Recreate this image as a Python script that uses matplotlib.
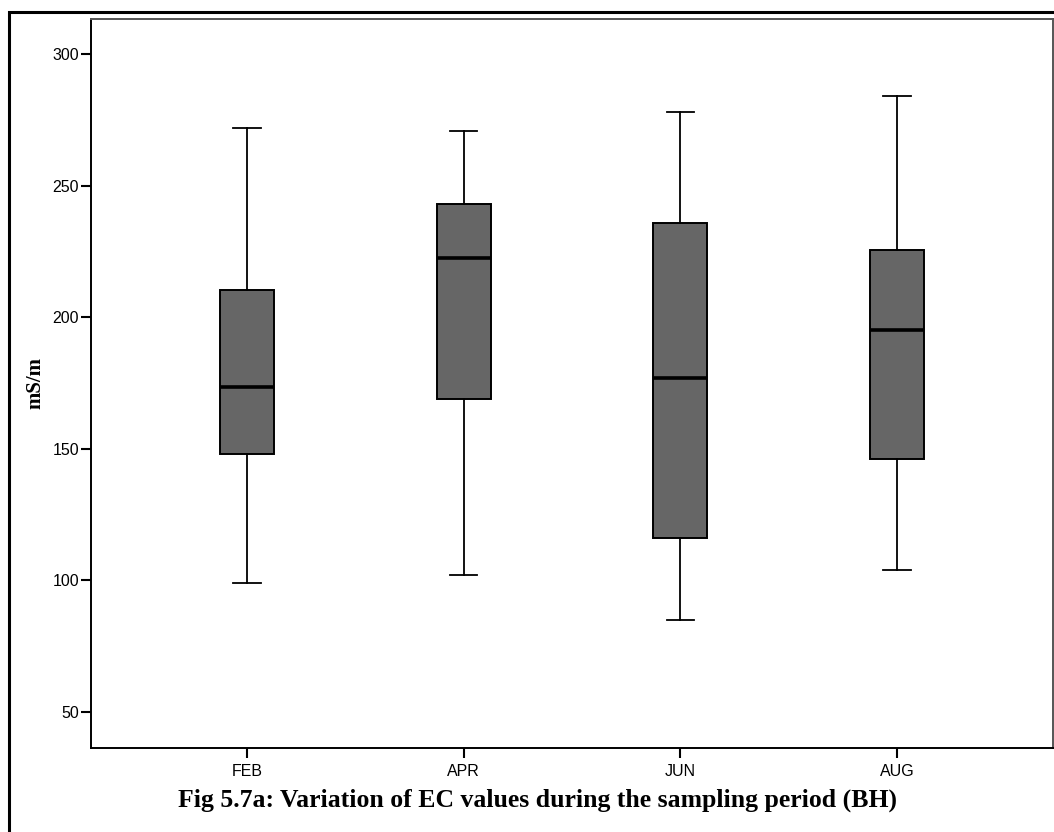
import matplotlib
matplotlib.use("Agg")
import matplotlib.pyplot as plt
from matplotlib.patches import Rectangle

months = ["FEB", "APR", "JUN", "AUG"]
whisker_low = [99, 102, 85, 104]
q1 = [148, 169, 116, 146]
median = [173.5, 222.5, 177, 195]
q3 = [210.5, 243, 236, 225.5]
whisker_high = [272, 271, 278, 284]
yticks = [50, 100, 150, 200, 250, 300]

fig = plt.figure(figsize=(10.54, 8.32), dpi=100)
W, H = 1054, 832
ax = fig.add_axes([91 / W, 1 - 748 / H, (1053 - 91) / W, (748 - 19) / H])

stats = []
for m, lo, a, med, b, hi in zip(months, whisker_low, q1, median, q3, whisker_high):
    stats.append(dict(label=m, whislo=lo, q1=a, med=med, q3=b, whishi=hi, fliers=[]))

ax.bxp(stats, positions=[1, 2, 3, 4], widths=0.25, patch_artist=True,
       showfliers=False,
       boxprops=dict(facecolor="#666666", edgecolor="black", linewidth=1.4),
       medianprops=dict(color="black", linewidth=2.6),
       whiskerprops=dict(color="black", linewidth=1.3),
       capprops=dict(color="black", linewidth=1.3))

ax.set_xlim(0.28, 4.72)
ax.set_ylim(36.3, 313.4)
ax.set_yticks(yticks)
ax.set_xticks([1, 2, 3, 4])
ax.set_xticklabels(months)
for lab in ax.get_yticklabels() + ax.get_xticklabels():
    lab.set_fontfamily("Liberation Sans")
    lab.set_fontsize(11.5)
ax.tick_params(axis="both", direction="out", length=7.5, width=1.5, color="black")
ax.tick_params(axis="y", pad=1)
ax.tick_params(axis="x", pad=4)
for s in ["left", "bottom"]:
    ax.spines[s].set_linewidth(1.4)
    ax.spines[s].set_color("black")
for s in ["top", "right"]:
    ax.spines[s].set_linewidth(1.4)
    ax.spines[s].set_color("#555555")

fig.text(35 / W, 1 - 383 / H, "mS/m", rotation=90, ha="center", va="center",
         fontfamily="Liberation Serif", fontweight="bold", fontsize=15)

fig.text(537 / W, 1 - 800 / H,
         "Fig 5.7a: Variation of EC values during the sampling period (BH)",
         ha="center", va="center", fontfamily="Liberation Serif",
         fontweight="bold", fontsize=18.5)

fig.patches.append(Rectangle((8.5 / W, -0.1), 1.2, 1 - 11.5 / H + 0.1,
                             transform=fig.transFigure, fill=False,
                             edgecolor="black", linewidth=2.2))

fig.savefig("out.png", dpi=100)
